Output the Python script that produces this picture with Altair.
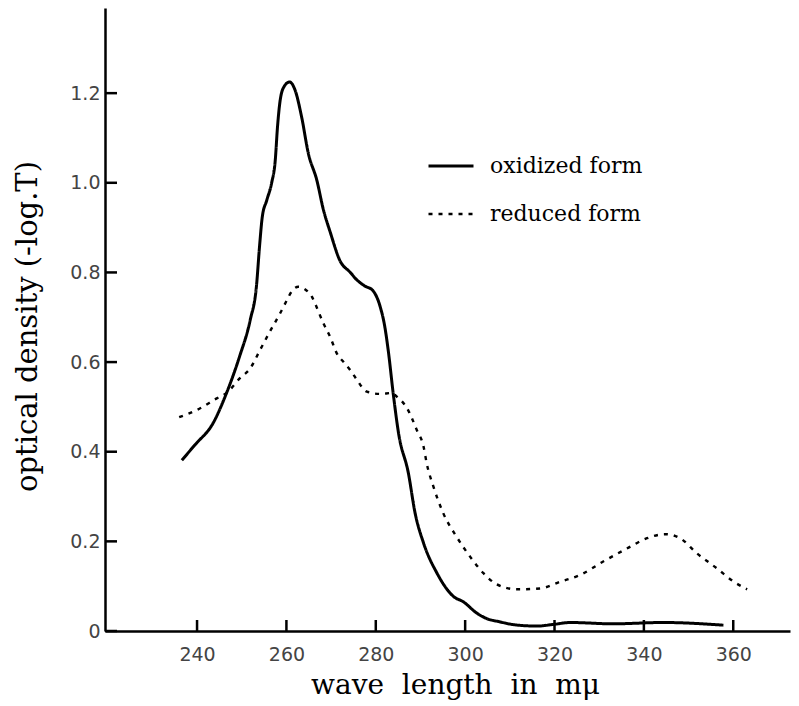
import altair as alt
import pandas as pd

# ---- data ----
forms = ["oxidized form", "reduced form"]

ox_w = [236.6, 239.5, 243.6, 246.6, 249.5, 251.9, 253.3, 254.0, 254.6, 255.6, 256.7, 257.5,
        258.0, 258.6, 259.5, 260.7, 262.0, 263.4, 264.9, 266.8, 268.3, 269.8, 272.0, 274.3,
        275.8, 277.5, 279.3, 281.0, 282.0, 282.8, 283.9, 285.1, 287.3, 288.8, 290.7, 293.7,
        297.4, 299.6, 302.6, 305.0, 307.5, 311.0, 316.0, 320.0, 323.5, 333.1, 344.3, 357.8]
ox_v = [0.381, 0.415, 0.464, 0.531, 0.612, 0.694, 0.770, 0.860, 0.924, 0.961, 1.000, 1.050,
        1.124, 1.184, 1.215, 1.225, 1.205, 1.147, 1.066, 1.006, 0.939, 0.890, 0.826, 0.800,
        0.783, 0.770, 0.760, 0.723, 0.680, 0.625, 0.530, 0.441, 0.352, 0.263, 0.196, 0.129,
        0.077, 0.065, 0.040, 0.027, 0.021, 0.014, 0.011, 0.015, 0.019, 0.016, 0.019, 0.013]

red_w = [236.0, 240.7, 244.4, 246.6, 249.6, 251.9, 254.1, 256.3, 258.6, 260.1, 261.2, 262.7,
         264.2, 265.7, 266.4, 268.3, 269.8, 271.3, 272.8, 274.3, 275.8, 278.0, 281.0, 283.6,
         284.7, 287.0, 289.2, 290.7, 291.4, 292.9, 295.1, 298.1, 301.1, 304.1, 307.1, 311.6,
         316.8, 321.3, 325.7, 330.9, 336.2, 340.7, 344.8, 348.1, 351.9, 356.3, 360.1, 363.1]
red_v = [0.477, 0.497, 0.519, 0.531, 0.564, 0.586, 0.627, 0.668, 0.709, 0.738, 0.758, 0.768,
         0.762, 0.746, 0.731, 0.686, 0.656, 0.619, 0.600, 0.582, 0.560, 0.534, 0.529, 0.531,
         0.523, 0.497, 0.448, 0.411, 0.374, 0.322, 0.263, 0.210, 0.166, 0.129, 0.104, 0.093,
         0.095, 0.110, 0.125, 0.155, 0.184, 0.207, 0.216, 0.207, 0.173, 0.140, 0.110, 0.093]

x_ticks = [240, 260, 280, 300, 320, 340, 360]
y_ticks = [0, 0.2, 0.4, 0.6, 0.8, 1.0, 1.2]

x_domain = [219.4, 372.7]
y_domain = [0, 1.39]

W, H = 685, 623

df = pd.concat([
    pd.DataFrame({"w": ox_w, "v": ox_v, "form": forms[0]}),
    pd.DataFrame({"w": red_w, "v": red_v, "form": forms[1]}),
], ignore_index=True)

serif = "DejaVu Serif"
sans = "DejaVu Sans"
X_TITLE = "wave\u00a0 length\u00a0 in\u00a0 m\u03bc"
Y_TITLE = "optical density (-log.T)"

xs = alt.Scale(domain=x_domain, nice=False, zero=False)
ys = alt.Scale(domain=y_domain, nice=False, zero=False)

x_axis = alt.Axis(
    values=x_ticks, ticks=False, domain=True, domainColor="black", domainWidth=2.5,
    labelPadding=14, labelFont=sans, labelFontSize=19, labelColor="#444",
    title=X_TITLE, titleFont=serif, titleFontSize=28,
    titleFontWeight="normal", titleColor="black", titleX=350, titleY=62,
    titleAlign="center", titleBaseline="alphabetic")
y_axis = alt.Axis(
    values=y_ticks, ticks=False, domain=True, domainColor="black", domainWidth=2.5,
    labelPadding=5, labelFont=sans, labelFontSize=19, labelColor="#444",
    labelExpr="datum.value == 0 ? '0' : format(datum.value, '.1f')",
    title=Y_TITLE, titleFont=serif, titleFontSize=29,
    titleFontWeight="normal", titleColor="black", titleAngle=270,
    titleX=-78, titleY=318, titleAlign="center", titleBaseline="middle")

lines = alt.Chart(df).mark_line(interpolate="monotone", color="black").encode(
    x=alt.X("w:Q", scale=xs, axis=x_axis, title=X_TITLE),
    y=alt.Y("v:Q", scale=ys, axis=y_axis, title=Y_TITLE),
    strokeDash=alt.StrokeDash("form:N", scale=alt.Scale(domain=forms, range=[[1, 0], [4, 6]]),
                              legend=alt.Legend(
                                  title=None, orient="none", legendX=322, legendY=134,
                                  symbolType="stroke", symbolSize=2025, symbolStrokeWidth=2,
                                  symbolStrokeColor="black", labelFont=serif, labelFontSize=22,
                                  labelColor="black", labelOffset=15, rowPadding=13, padding=0,
                                  labelLimit=400)),
    strokeWidth=alt.StrokeWidth("form:N", scale=alt.Scale(domain=forms, range=[3, 2.4]), legend=None),
    detail="form:N",
)

# inward tick marks, positioned through the shared scales
xt = alt.Chart(pd.DataFrame({"w": x_ticks})).mark_rule(color="black", strokeWidth=2.5).encode(
    x=alt.X("w:Q", scale=xs, axis=x_axis, title=X_TITLE),
    y=alt.value(H - 11), y2=alt.value(H),
)
yt = alt.Chart(pd.DataFrame({"v": y_ticks})).mark_rule(color="black", strokeWidth=2.5).encode(
    y=alt.Y("v:Q", scale=ys, axis=y_axis, title=Y_TITLE),
    x=alt.value(0), x2=alt.value(12),
)

chart = alt.layer(lines, xt, yt).properties(
    width=W, height=H,
    autosize=alt.AutoSizeParams(type="none"),
    padding={"left": 97, "top": 0, "right": 1, "bottom": 70},
    background="white",
).configure_view(stroke=None).configure_axis(grid=False)

chart.save("out.html", embed_options={"renderer": "svg", "actions": False})
